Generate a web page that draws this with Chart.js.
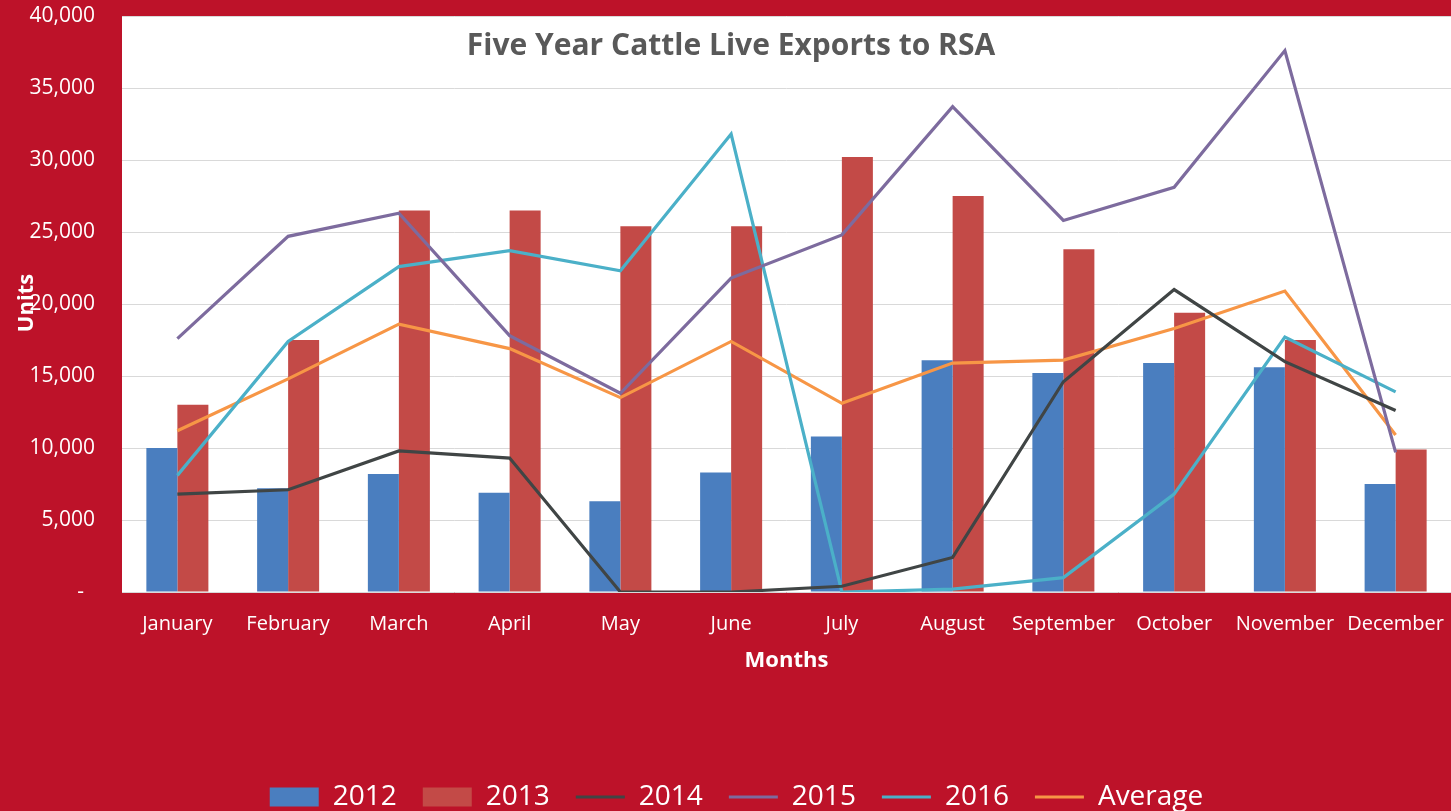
<!DOCTYPE html>
<html>
<head>
<meta charset="utf-8">
<title>Five Year Cattle Live Exports to RSA</title>
<script src="https://cdn.jsdelivr.net/npm/chart.js@4.4.1/dist/chart.umd.min.js"></script>
<style>
  html, body { margin: 0; padding: 0; background: #bd1229; }
  canvas { display: block; }
</style>
</head>
<body>
<canvas id="cattle-chart" width="1451" height="811"></canvas>
<script>
// Months on the horizontal axis
const months = ['January', 'February', 'March', 'April', 'May', 'June',
  'July', 'August', 'September', 'October', 'November', 'December'];

// Units exported per month
const exports2012 = [10000, 7200, 8200, 6900, 6300, 8300, 10800, 16100, 15200, 15900, 15600, 7500];
const exports2013 = [13000, 17500, 26500, 26500, 25400, 25400, 30200, 27500, 23800, 19400, 17500, 9900];
const exports2014 = [6800, 7100, 9800, 9300, 0, 0, 400, 2400, 14600, 21000, 16000, 12600];
const exports2015 = [17600, 24700, 26300, 17800, 13800, 21800, 24800, 33700, 25800, 28100, 37600, 9700];
const exports2016 = [8100, 17400, 22600, 23700, 22300, 31800, 0, 200, 1000, 6800, 17700, 13900];
const exportsAverage = [11200, 14800, 18600, 16900, 13500, 17400, 13100, 15900, 16100, 18300, 20900, 10900];

// y axis ticks
const yTicks = [0, 5000, 10000, 15000, 20000, 25000, 30000, 35000, 40000];

const RED_BG = '#bd1229';
const FONT = "'Open Sans', sans-serif";

// red page, white plot area, title and y title
const chartDecor = {
  id: 'chartDecor',
  beforeDraw(chart) {
    const {ctx, chartArea: a} = chart;
    ctx.save();
    ctx.fillStyle = RED_BG;
    ctx.fillRect(0, 0, chart.width, chart.height);
    ctx.fillStyle = '#ffffff';
    ctx.fillRect(a.left, a.top, a.right - a.left, a.bottom - a.top);
    ctx.restore();
  },
  beforeDatasetsDraw(chart) {
    const {ctx} = chart;
    ctx.save();
    ctx.fillStyle = '#595959';
    ctx.font = "bold 30px " + FONT;
    ctx.textAlign = 'center';
    ctx.textBaseline = 'middle';
    ctx.fillText('Five Year Cattle Live Exports to RSA', 731, 46);
    ctx.restore();
  },
  afterDraw(chart) {
    const {ctx} = chart;
    ctx.save();
    ctx.translate(27, 303);
    ctx.rotate(-Math.PI / 2);
    ctx.fillStyle = '#ffffff';
    ctx.font = "bold 22px " + FONT;
    ctx.textAlign = 'center';
    ctx.textBaseline = 'middle';
    ctx.fillText('Units', 0, 0);
    ctx.restore();
  }
};

function lineSet(label, data, color) {
  return {
    type: 'line',
    label: label,
    data: data,
    borderColor: color,
    backgroundColor: color,
    borderWidth: 3.2,
    pointRadius: 0,
    tension: 0,
    order: 1
  };
}

const chartCanvas = document.querySelector('#cattle-chart');

const cattleChart = new Chart(chartCanvas, {
  type: 'bar',
  data: {
    labels: months,
    datasets: [
      {
        label: '2012',
        data: exports2012,
        backgroundColor: '#4a7ebf',
        borderWidth: 0,
        categoryPercentage: 0.56,
        barPercentage: 1,
        order: 2
      },
      {
        label: '2013',
        data: exports2013,
        backgroundColor: '#c34a47',
        borderWidth: 0,
        categoryPercentage: 0.56,
        barPercentage: 1,
        order: 2
      },
      lineSet('2014', exports2014, '#404545'),
      lineSet('2015', exports2015, '#7d6b9e'),
      lineSet('2016', exports2016, '#4bb0c8'),
      lineSet('Average', exportsAverage, '#f79646')
    ]
  },
  options: {
    responsive: false,
    animation: false,
    layout: {
      padding: { top: 16, right: 0, bottom: -10, left: 22 }
    },
    plugins: {
      legend: {
        position: 'bottom',
        labels: {
          color: '#ffffff',
          font: { family: FONT, size: 28 },
          usePointStyle: true,
          boxHeight: 19,
          pointStyleWidth: 49,
          padding: 26,
          generateLabels(chart) {
            return chart.data.datasets.map((ds, i) => ({
              text: ds.label,
              fillStyle: ds.backgroundColor,
              strokeStyle: ds.type === 'line' ? ds.borderColor : ds.backgroundColor,
              lineWidth: ds.type === 'line' ? 3 : 0,
              pointStyle: ds.type === 'line' ? 'line' : 'rect',
              fontColor: '#ffffff',
              hidden: false,
              datasetIndex: i
            }));
          }
        }
      },
      tooltip: { enabled: false }
    },
    scales: {
      x: {
        grid: { display: false },
        border: { display: false },
        ticks: {
          color: '#ffffff',
          font: { family: FONT, size: 20 },
          padding: 12,
          maxRotation: 0,
          autoSkip: false
        },
        title: {
          display: true,
          text: 'Months',
          color: '#ffffff',
          font: { family: FONT, size: 22, weight: 'bold' },
          padding: { top: 4, bottom: 83 }
        },
        afterFit(scale) {
          scale.height = 165;
          scale.paddingLeft = 0;
          scale.paddingRight = 0;
        }
      },
      y: {
        min: 0,
        max: 40000,
        afterBuildTicks(scale) {
          scale.ticks = yTicks.map(v => ({ value: v }));
        },
        grid: { color: '#d9d9d9', lineWidth: 1, drawTicks: false },
        border: { display: false },
        ticks: {
          color: '#ffffff',
          font: { family: FONT, size: 21 },
          padding: 27,
          callback(value) {
            return value === 0 ? '-  ' : value.toLocaleString('en-US');
          }
        },
        afterFit(scale) {
          scale.width = 100;
          scale.paddingTop = 0;
          scale.paddingBottom = 0;
        }
      }
    }
  },
  plugins: [chartDecor]
});
</script>
</body>
</html>
